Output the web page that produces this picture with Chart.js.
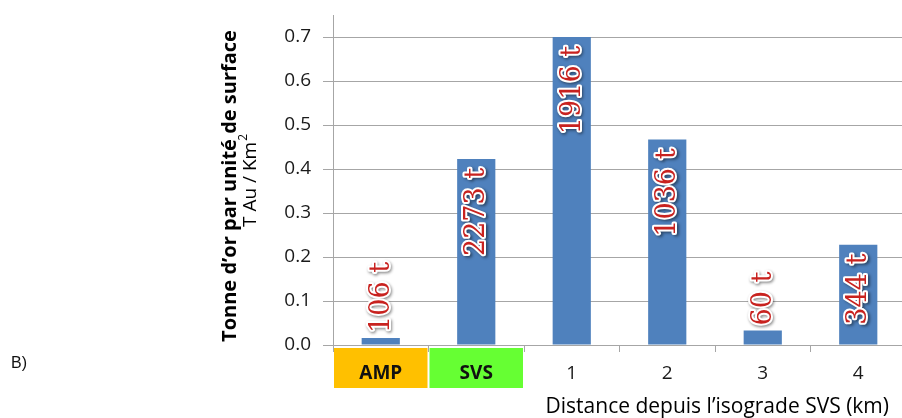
<!DOCTYPE html>
<html>
<head>
<meta charset="utf-8">
<script src="https://cdn.jsdelivr.net/npm/chart.js@4/dist/chart.umd.min.js"></script>
<style>
  html, body { margin: 0; padding: 0; background: #fff; overflow: hidden; }
  #wrap { position: relative; width: 910px; height: 418px; }
</style>
</head>
<body>
<div id="wrap"><canvas id="c"></canvas></div>
<script>
// Categories along the distance axis
const categories = ['AMP', 'SVS', '1', '2', '3', '4'];
// Gold per unit of surface (t Au / km²)
const density = [0.016, 0.423, 0.700, 0.467, 0.033, 0.228];
// Gold tonnage written on each bar
const tonnage = ['106 t', '2273 t', '1916 t', '1036 t', '60 t', '344 t'];
// Background colours of the first two category labels
const zoneColors = ['#FFC000', '#66FF33', null, null, null, null];

const UI_FONT = "'Open Sans', 'Liberation Sans', sans-serif";
const LABEL_FONT = "'DejaVu Serif', 'Liberation Serif', serif";
const GRID = '#a6a6a6';

// Coloured boxes behind the zone labels
const zoneBoxes = {
  id: 'zoneBoxes',
  beforeDraw(chart) {
    const { ctx, chartArea, scales: { x } } = chart;
    const step = x.getPixelForValue(1) - x.getPixelForValue(0);
    ctx.save();
    zoneColors.forEach((col, i) => {
      if (!col) return;
      const cx = x.getPixelForValue(i);
      ctx.fillStyle = col;
      ctx.fillRect(cx - step / 2 + 1, chartArea.bottom + 3, step - 2, 40);
    });
    ctx.restore();
  }
};

// Vertical tonnage labels, red with a white outline
const barLabels = {
  id: 'barLabels',
  afterDatasetsDraw(chart) {
    const { ctx } = chart;
    const meta = chart.getDatasetMeta(0);
    ctx.save();
    ctx.font = `27px ${LABEL_FONT}`;
    ctx.textBaseline = 'middle';
    meta.data.forEach((bar, i) => {
      const txt = tonnage[i];
      const w = ctx.measureText(txt).width;
      const h = bar.base - bar.y;
      const pad = 9;
      ctx.save();
      let anchorY, align;
      if (h >= w + pad * 2) { anchorY = bar.y + pad; align = 'right'; }
      else { anchorY = bar.y - 5; align = 'left'; }
      ctx.translate(bar.x, anchorY);
      ctx.rotate(-Math.PI / 2);
      ctx.textAlign = align;
      ctx.lineJoin = 'round';
      ctx.shadowColor = 'rgba(0,0,0,0.45)';
      ctx.shadowBlur = 3;
      ctx.shadowOffsetX = 1.5;
      ctx.shadowOffsetY = 1.5;
      ctx.strokeStyle = '#ffffff';
      ctx.lineWidth = 4;
      ctx.strokeText(txt, 0, 1);
      ctx.shadowColor = 'transparent';
      ctx.fillStyle = '#C8221F';
      ctx.fillText(txt, 0, 1);
      ctx.restore();
    });
    ctx.restore();
  }
};

// Axis titles and panel letter
const titles = {
  id: 'titles',
  afterDraw(chart) {
    const { ctx } = chart;
    ctx.save();
    ctx.textBaseline = 'middle';

    // panel letter
    ctx.font = "16px 'Liberation Sans', Arial, sans-serif";
    ctx.textAlign = 'left';
    ctx.fillStyle = '#111';
    ctx.fillText('B)', 11, 364);

    // x-axis title
    ctx.fillStyle = '#000';
    ctx.font = `21px ${UI_FONT}`;
    ctx.textAlign = 'right';
    ctx.fillText('Distance depuis l\u2019isograde SVS (km)', 889, 407);

    // y-axis title, first line (bold)
    ctx.save();
    ctx.translate(230, 186);
    ctx.rotate(-Math.PI / 2);
    ctx.textAlign = 'center';
    ctx.font = `bold 20px ${UI_FONT}`;
    ctx.fillText('Tonne d\u2019or par unit\u00e9 de surface', 0, 0);
    ctx.restore();

    // y-axis title, second line with superscript
    ctx.save();
    ctx.translate(251, 181);
    ctx.rotate(-Math.PI / 2);
    ctx.font = `19px ${UI_FONT}`;
    const main = 'T Au / Km';
    const wMain = ctx.measureText(main).width;
    ctx.font = `12px ${UI_FONT}`;
    const wSup = ctx.measureText('2').width;
    const x0 = -(wMain + wSup) / 2;
    ctx.textAlign = 'left';
    ctx.font = `19px ${UI_FONT}`;
    ctx.fillText(main, x0, 0);
    ctx.font = `12px ${UI_FONT}`;
    ctx.fillText('2', x0 + wMain + 1, -7);
    ctx.restore();

    ctx.restore();
  }
};

new Chart(document.getElementById('c'), {
  type: 'bar',
  data: {
    labels: categories,
    datasets: [{
      data: density,
      backgroundColor: '#4F81BD',
      borderWidth: 0,
      categoryPercentage: 1,
      barPercentage: 0.4
    }]
  },
  options: {
    responsive: true,
    maintainAspectRatio: false,
    animation: false,
    devicePixelRatio: 1,
    layout: { padding: { top: 15, right: 4, left: 0, bottom: 0 } },
    plugins: { legend: { display: false }, tooltip: { enabled: false } },
    scales: {
      x: {
        afterFit(scale) { scale.height = 73; scale.paddingLeft = 0; scale.paddingRight = 0; },
        grid: {
          offset: true,
          drawOnChartArea: false,
          color: GRID,
          tickLength: 7
        },
        border: { color: GRID },
        ticks: {
          padding: 10,
          color: ctx => (ctx.index < 2 ? '#111' : '#1a1a1a'),
          font: ctx => ({
            family: UI_FONT,
            size: 19,
            weight: ctx.index < 2 ? 'bold' : 'normal'
          })
        }
      },
      y: {
        min: 0,
        max: 0.75,
        afterFit(scale) { scale.width = 333; scale.paddingTop = 0; scale.paddingBottom = 0; },
        afterBuildTicks(scale) {
          scale.ticks = scale.ticks.filter(t => Math.abs(t.value * 10 - Math.round(t.value * 10)) < 1e-6);
        },
        grid: { color: GRID, tickLength: 10 },
        border: { color: GRID },
        ticks: {
          stepSize: 0.1,
          padding: 12,
          color: '#1a1a1a',
          font: { family: UI_FONT, size: 19 },
          callback: v => Number(v).toFixed(1)
        }
      }
    }
  },
  plugins: [zoneBoxes, barLabels, titles]
});
</script>
</body>
</html>
